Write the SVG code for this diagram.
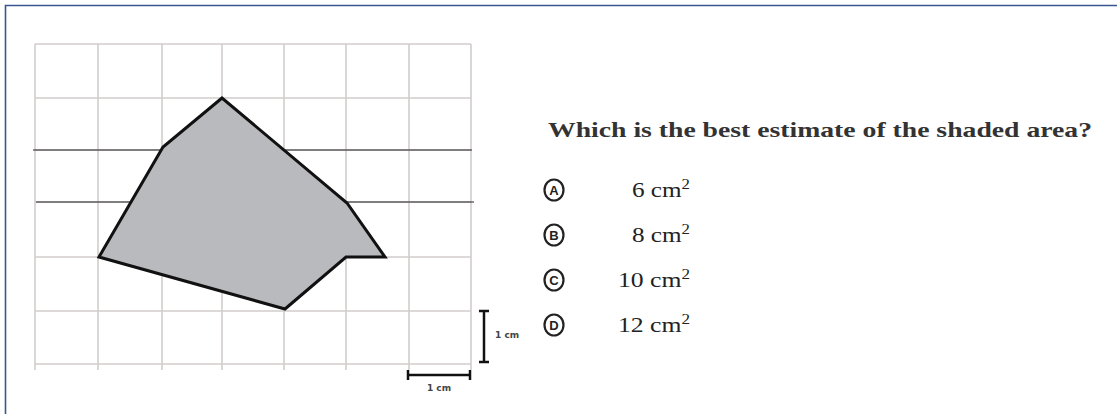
<svg xmlns="http://www.w3.org/2000/svg" width="1117" height="414" viewBox="0 0 1117 414">
<style>
.grid{stroke:#d2cdcd;stroke-width:1.6;fill:none}
.dark{stroke:#222;stroke-width:1}
.shape{fill:#b9babd;stroke:#111;stroke-width:3;stroke-linejoin:miter}
.bar{stroke:#111;stroke-width:2.5;fill:none}
.unit{font-family:"DejaVu Sans",sans-serif;font-size:9px;font-weight:bold;fill:#444}
.q{font-family:"Liberation Serif",serif;font-size:22px;font-weight:bold;fill:#333}
.opt{font-family:"Liberation Serif",serif;font-size:21px;fill:#222}
.circ{fill:none;stroke:#222;stroke-width:2.2}
.let{font-family:"Liberation Sans",sans-serif;font-size:13px;font-weight:bold;fill:#222;text-anchor:middle}
</style>
<rect width="1117" height="414" fill="#fff"/>
<path d="M5.5,414 V5.5 H1117" fill="none" stroke="#3a5690" stroke-width="1.6"/>
<g id="grid">
<path class="grid" d="M35,44V370 M98,44V370 M162,44V370 M222,44V370 M284,44V370 M346,44V370 M409,44V370 M471,44V370 M35,44H471 M35,98H471 M35,150H471 M35,202H471 M35,257H471 M35,311H471 M35,364H471"/>
<path class="dark" d="M33,150H472 M36,202H474"/>
</g>
<g id="shaded-shape">
<polygon class="shape" points="222,98 163,147 99,257 285,309 346,257 385,257 347,203"/>
</g>
<g id="scale">
<path class="bar" d="M484,311V362 M479,311H489 M479,362H489"/>
<text class="unit" x="495" y="338">1 cm</text>
<path class="bar" d="M408,375H470 M408,370V380 M470,370V380"/>
<text class="unit" x="439" y="391" text-anchor="middle">1 cm</text>
</g>
<g id="question">
<text class="q" x="548" y="137" textLength="544" lengthAdjust="spacingAndGlyphs">Which is the best estimate of the shaded area?</text>
</g>
<g id="options">
<g id="opt-a"><ellipse class="circ" cx="554" cy="190" rx="9.5" ry="10.5"/><text class="let" x="554" y="195">A</text><text class="opt" x="632" y="197" textLength="58" lengthAdjust="spacingAndGlyphs">6 cm<tspan font-size="14" dy="-8">2</tspan></text></g>
<g id="opt-b"><ellipse class="circ" cx="554" cy="235" rx="9.5" ry="10.5"/><text class="let" x="554" y="240">B</text><text class="opt" x="632" y="242" textLength="58" lengthAdjust="spacingAndGlyphs">8 cm<tspan font-size="14" dy="-8">2</tspan></text></g>
<g id="opt-c"><ellipse class="circ" cx="554" cy="280" rx="9.5" ry="10.5"/><text class="let" x="554" y="285">C</text><text class="opt" x="618" y="287" textLength="72" lengthAdjust="spacingAndGlyphs">10 cm<tspan font-size="14" dy="-8">2</tspan></text></g>
<g id="opt-d"><ellipse class="circ" cx="554" cy="325" rx="9.5" ry="10.5"/><text class="let" x="554" y="330">D</text><text class="opt" x="618" y="332" textLength="72" lengthAdjust="spacingAndGlyphs">12 cm<tspan font-size="14" dy="-8">2</tspan></text></g>
</g>
</svg>
